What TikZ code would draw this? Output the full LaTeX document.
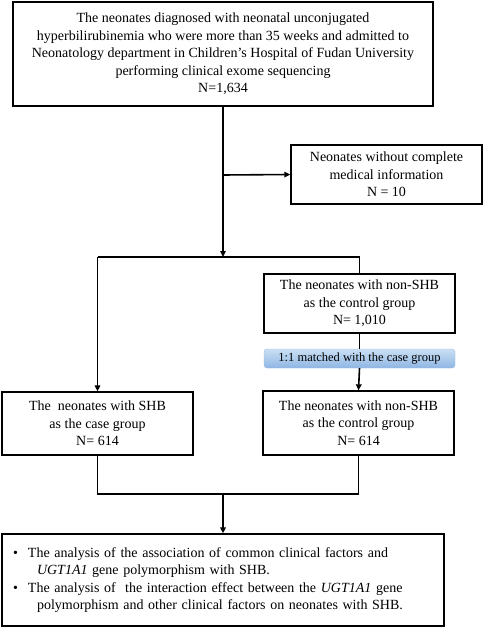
\documentclass[tikz,border=0pt]{standalone}
\usepackage{fontspec}
\setmainfont{Liberation Serif}
\usetikzlibrary{arrows.meta}
\definecolor{matchtop}{HTML}{CADFF3}
\definecolor{matchbot}{HTML}{8FB6E4}
\definecolor{matchline}{HTML}{9DBDE3}
\newcommand{\itemdot}{\makebox[15pt][l]{\textbullet}}
\begin{document}
\begin{tikzpicture}[x=1pt,y=1pt,
    box/.style={draw,line width=1.3pt,align=center,inner sep=2pt,
        font=\fontsize{14}{17.5}\selectfont},
    match/.style={draw=matchline,rounded corners=3pt,top color=matchtop,bottom color=matchbot,
        minimum width=191pt,minimum height=19pt,inner sep=0pt,font=\fontsize{12.5}{15}\selectfont},
    link/.style={line width=1.6pt},
    arr/.style={link,-{Triangle[length=6pt,width=5.5pt]}}]
    \useasboundingbox (0,0) rectangle (484,-628);
    %% Boxes
    \node[box,minimum width=420pt,minimum height=104pt] (all) at (223,-54)
        {The neonates diagnosed with neonatal unconjugated\\
         hyperbilirubinemia who were more than 35 weeks and admitted to\\
         Neonatology department in Children’s Hospital of Fudan University\\
         performing clinical exome sequencing\\
         N=1,634};
    \node[box,minimum width=191pt,minimum height=59pt] (excl) at (386.5,-174.5)
        {Neonates without complete\\ medical information\\ N = 10};
    \node[box,minimum width=191pt,minimum height=59pt] (ctrlall) at (359.5,-303.5)
        {The neonates with non-SHB\\ as the control group\\ N= 1,010};
    \node[match] (matched) at (359.5,-358.5) {1:1 matched with the case group};
    \node[box,minimum width=191pt,minimum height=63pt] (cases) at (97.5,-423.5)
        {The\ \ neonates with SHB\\ as the case group\\ N= 614};
    \node[box,minimum width=191pt,minimum height=64pt] (ctrl) at (358.5,-423)
        {The neonates with non-SHB\\ as the control group\\ N= 614};
    \node[box,minimum width=442pt,minimum height=92pt,text width=420pt,align=left] (analysis) at (223,-580)
        {\itemdot The analysis of the association of common clinical factors and\\
         \hspace*{24pt}\textit{UGT1A1} gene polymorphism with SHB.\\
         \itemdot The analysis of\ \ the interaction effect between the \textit{UGT1A1} gene\\
         \hspace*{24pt}polymorphism and other clinical factors on neonates with SHB.};
    %% Joints
    \coordinate (split) at (223,-257);
    \coordinate (side) at (223,-175);
    \coordinate (merge) at (223,-494);
    %% Connectors
    \draw[arr] (all.south) -- (split);
    \draw[arr] (side) -- (excl.west);
    \draw[link] (cases.north |- split) -- (ctrlall.north |- split);
    \draw[arr] (cases.north |- split) -- (cases.north);
    \draw[link] (ctrlall.north |- split) -- (ctrlall.north);
    \draw[link] (ctrlall.south) -- (matched.north);
    \draw[arr] (matched.south) -- (ctrl.north);
    \draw[link] (cases.south) -- (cases.south |- merge) -- (ctrl.south |- merge) -- (ctrl.south);
    \draw[arr] (merge) -- (analysis.north);
\end{tikzpicture}
\end{document}
